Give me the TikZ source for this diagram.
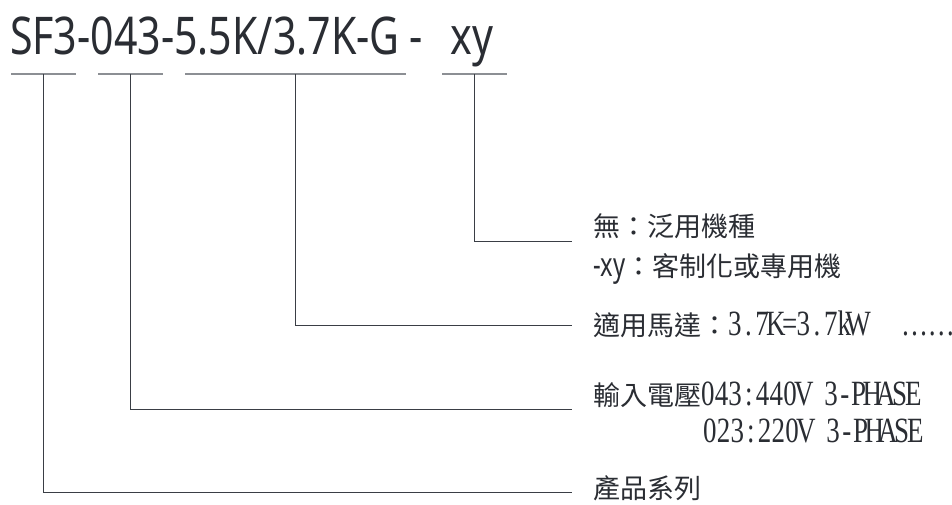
\documentclass[tikz,border=0pt]{standalone}
\usepackage{fontspec}
\usetikzlibrary{calc}
\newfontfamily\titlefont[FakeStretch=0.79]{Noto Sans}
\newfontfamily\xyfont[FakeStretch=0.72]{Noto Sans}
\newfontfamily\cjkfont{Noto Sans CJK TC}
\newfontfamily\numfont[FakeStretch=0.76]{Liberation Serif}
\newcommand\monocell[1]{\makebox[13.7pt][c]{#1}}
\def\monostr#1{\monostri#1\relax}
\def\monostri#1{\ifx#1\relax\else\monocell{#1}\expandafter\monostri\fi}
\definecolor{inkc}{HTML}{2A2D33}
\definecolor{linec}{HTML}{3A3E45}
\definecolor{ulc}{HTML}{8C8F94}
\tikzset{
  lbl/.style={anchor=base west, inner sep=0pt, outer sep=0pt, text=inkc},
  ttl/.style={lbl, font=\titlefont\fontsize{52}{52}\selectfont},
  cjk/.style={lbl, font=\cjkfont\fontsize{27}{27}\selectfont},
  uline/.style={draw=ulc, line width=1.4pt},
  conn/.style={draw=linec, line width=1pt},
}
\begin{document}
\begin{tikzpicture}[x=1pt, y=-1pt]
\useasboundingbox[fill=white] (0,0) rectangle (952,505);
% title
\node[ttl] (title) at (10,55) {SF3-043-5.5K/3.7K-G\hspace{10pt}-\hspace{28pt}xy};
% underline segments
\coordinate (u1a) at (11,74);  \coordinate (u1b) at (76,74);
\coordinate (u2a) at (98,74);  \coordinate (u2b) at (163,74);
\coordinate (u3a) at (185,74); \coordinate (u3b) at (406,74);
\coordinate (u4a) at (442,74); \coordinate (u4b) at (507,74);
\draw[uline] (u1a) -- (u1b);
\draw[uline] (u2a) -- (u2b);
\draw[uline] (u3a) -- (u3b);
\draw[uline] (u4a) -- (u4b);
\coordinate (m1) at ($(u1a)!0.5!(u1b)$);
\coordinate (m2) at ($(u2a)!0.5!(u2b)$);
\coordinate (m3) at ($(u3a)!0.5!(u3b)$);
\coordinate (m4) at ($(u4a)!0.5!(u4b)$);
% connector end points
\coordinate (e4) at (572,241);
\coordinate (e3) at (572,325);
\coordinate (e2) at (572,409);
\coordinate (e1) at (572,492);
\draw[conn] (m4) |- (e4);
\draw[conn] (m3) |- (e3);
\draw[conn] (m2) |- (e2);
\draw[conn] (m1) |- (e1);
% labels
\node[cjk] (t1) at (593,236) {無：泛用機種};
\node[cjk] (t2) at (593,276) {{\xyfont\fontsize{33}{33}\selectfont -xy}：客制化或專用機};
\node[cjk] (t3) at (593,335) {適用馬達：{\numfont\fontsize{35.5}{36}\selectfont\monostr{3.7K=3.7kW}\hspace{36pt}……}};
\node[cjk] (t4) at (593,405) {輸入電壓{\numfont\fontsize{35.5}{36}\selectfont\monostr{043:440V~3-PHASE}}};
\node[lbl, font=\numfont\fontsize{35.5}{36}\selectfont] (t5) at (703,442) {\monostr{023:220V~3-PHASE}};
\node[cjk] (t6) at (593,498) {產品系列};
\end{tikzpicture}
\end{document}
